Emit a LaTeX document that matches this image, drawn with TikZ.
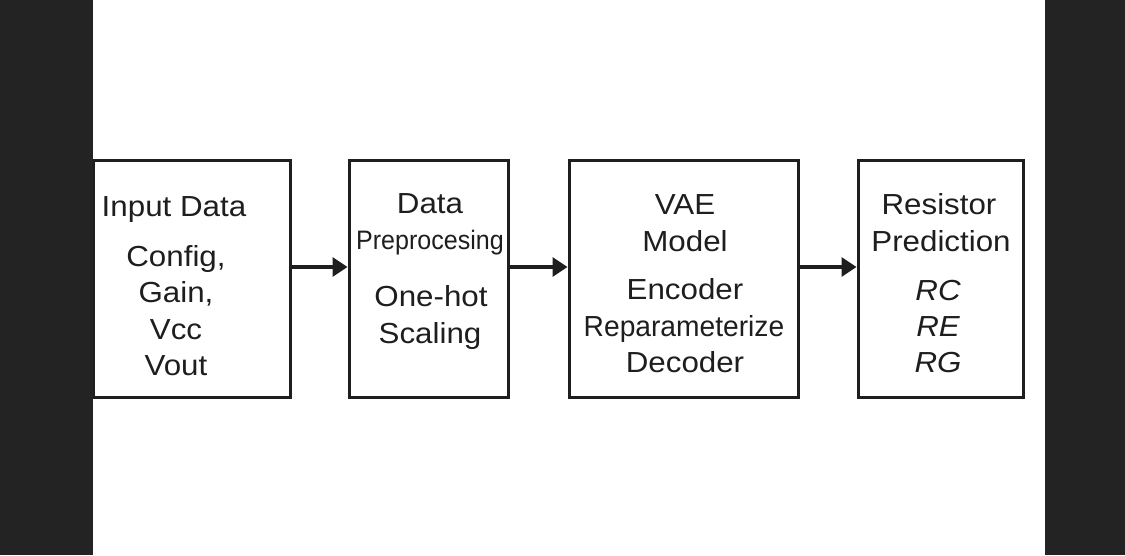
\documentclass[tikz,border=0pt]{standalone}
\usepackage{fontspec}
\setmainfont{Liberation Sans}[FakeStretch=1.08]
\usetikzlibrary{arrows.meta}
\definecolor{bar}{HTML}{232323}
\definecolor{ink}{HTML}{1E1E1E}
\tikzset{
  blockbox/.style={draw=ink, line width=3pt, fill=white, inner sep=0pt, minimum height=237pt},
  txt/.style={anchor=base, inner sep=0pt, text=ink, font=\fontsize{29}{34}\selectfont},
  flow/.style={draw=ink, line width=3.2pt, -{Triangle[length=15pt,width=19pt]}}
}
\begin{document}
\begin{tikzpicture}[x=1pt,y=-1pt]
\useasboundingbox (0,0) rectangle (1125,555);
\fill[white] (0,0) rectangle (1125,555);
% boxes
\node[blockbox, minimum width=197pt] (b1) at (191.5,278.5) {};
\node[blockbox, minimum width=159pt] (b2) at (428.5,278.5) {};
\node[blockbox, minimum width=229pt] (b3) at (683.5,278.5) {};
\node[blockbox, minimum width=165pt] (b4) at (940.5,278.5) {};
% side bars
\fill[bar] (0,0) rectangle (93,555);
\fill[bar] (1045,0) rectangle (1125,555);
% box 1 text
\node[txt] (t1a) at (174,216) {Input Data};
\node[txt] (t1b) at (176,266) {Config,};
\node[txt] (t1c) at (176,302.5) {Gain,};
\node[txt] (t1d) at (176,339) {Vcc};
\node[txt] (t1e) at (176,375) {Vout};
% box 2 text
\node[txt] (t2a) at (430,213.5) {Data};
\node[txt] (t2b) at (430,249.5) {\scalebox{0.8}[0.92]{Preprocesing}};
\node[txt] (t2c) at (431,306.5) {One-hot};
\node[txt] (t2d) at (430,343) {Scaling};
% box 3 text
\node[txt] (t3a) at (685,214) {VAE};
\node[txt] (t3b) at (685,251) {Model};
\node[txt] (t3c) at (685,299) {Encoder};
\node[txt] (t3d) at (684,336) {\scalebox{0.9}[1]{Reparameterize}};
\node[txt] (t3e) at (685,372.5) {Decoder};
% box 4 text
\node[txt] (t4a) at (939,214) {Resistor};
\node[txt] (t4b) at (941,251.5) {Prediction};
\node[txt] (t4c) at (938,300) {\itshape RC};
\node[txt] (t4d) at (938,336.5) {\itshape RE};
\node[txt] (t4e) at (938,372.5) {\itshape RG};
% arrows
\draw[flow] ([yshift=11.5pt]b1.east) -- ([yshift=11.5pt]b2.west);
\draw[flow] ([yshift=11.5pt]b2.east) -- ([yshift=11.5pt]b3.west);
\draw[flow] ([yshift=11.5pt]b3.east) -- ([yshift=11.5pt]b4.west);
\end{tikzpicture}
\end{document}
